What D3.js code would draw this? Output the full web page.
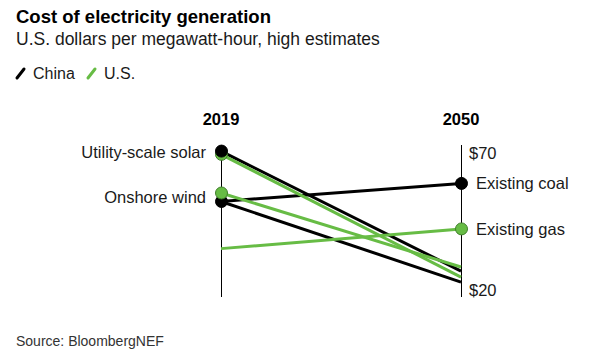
<!DOCTYPE html>
<html>
<head>
<meta charset="utf-8">
<script src="https://cdn.jsdelivr.net/npm/d3@7"></script>
<style>
  html, body { margin: 0; padding: 0; background: #fff; }
  svg { display: block; }
  text { font-family: "Liberation Sans", Arial, Helvetica, sans-serif; }
</style>
</head>
<body>
<svg id="chart" width="593" height="356"></svg>
<script>
// ---- Data ----
const years = ["2019", "2050"];
const chinaSolar = [70.7, 26.9];
const chinaWind  = [52.3, 22.9];
const chinaCoal  = [52.3, 58.9];
const usSolar    = [69.5, 24.7];
const usWind     = [55.4, 28.4];
const usGas      = [35.1, 42.3];
const tickValues = [70, 20];
const tickLabels = ["$70", "$20"];
const leftLabels  = [{ text: "Utility-scale solar", value: 70.2 }, { text: "Onshore wind", value: 53.9 }];
const rightLabels = [{ text: "Existing coal", value: 58.9 }, { text: "Existing gas", value: 42.3 }];

const BLACK = "#000000";
const GREEN = "#67bc45";
const GREEN_STROKE = "#3f7f2a";
const TEXT = "#1a1a1a";

const series = [
  { name: "China solar", country: "China", values: chinaSolar, dots: [0] },
  { name: "China wind",  country: "China", values: chinaWind,  dots: [0] },
  { name: "China coal",  country: "China", values: chinaCoal,  dots: [1] },
  { name: "US solar",    country: "US",    values: usSolar,    dots: [0] },
  { name: "US wind",     country: "US",    values: usWind,     dots: [0] },
  { name: "US gas",      country: "US",    values: usGas,      dots: [1] }
];
const color = c => c === "China" ? BLACK : GREEN;

// ---- Scales ----
const x = d3.scalePoint().domain(years).range([221, 461]);
const y = d3.scaleLinear().domain([20, 70]).range([290, 153]);

const svg = d3.select("#chart");

// ---- Titles ----
svg.append("text").attr("x", 16).attr("y", 23)
  .attr("font-size", 18.5).attr("font-weight", "bold").attr("fill", "#000")
  .text("Cost of electricity generation");
svg.append("text").attr("x", 16).attr("y", 45)
  .attr("font-size", 17.5).attr("fill", TEXT)
  .text("U.S. dollars per megawatt-hour, high estimates");

// ---- Legend ----
const legend = [{ label: "China", c: BLACK, x: 17 }, { label: "U.S.", c: GREEN, x: 88 }];
legend.forEach(l => {
  svg.append("line").attr("x1", l.x).attr("y1", 78).attr("x2", l.x + 7).attr("y2", 69)
    .attr("stroke", l.c).attr("stroke-width", 3).attr("stroke-linecap", "round");
  svg.append("text").attr("x", l.x + 16).attr("y", 78.5)
    .attr("font-size", 16).attr("fill", TEXT).text(l.label);
});

// ---- Axes (vertical lines) ----
years.forEach(yr => {
  svg.append("line").attr("x1", x(yr) + 0.5).attr("x2", x(yr) + 0.5)
    .attr("y1", 145).attr("y2", 297)
    .attr("stroke", "#000").attr("stroke-width", 1);
  svg.append("text").attr("x", x(yr)).attr("y", 125)
    .attr("text-anchor", "middle").attr("font-size", 16.5).attr("font-weight", "bold")
    .attr("fill", "#000").text(yr);
});

// tick labels on right axis
tickValues.forEach((v, i) => {
  svg.append("text").attr("x", x("2050") + 8).attr("y", y(v))
    .attr("dy", "0.35em").attr("font-size", 16.5).attr("fill", TEXT)
    .text(tickLabels[i]);
});

// ---- Lines ----
const line = d3.line().x((d, i) => x(years[i])).y(d => y(d));
series.forEach(s => {
  svg.append("path").datum(s.values).attr("d", line)
    .attr("fill", "none").attr("stroke", color(s.country)).attr("stroke-width", 3);
});

// ---- Dots (specific draw order) ----
const dotOrder = ["US solar", "China solar", "China wind", "US wind", "China coal", "US gas"];
dotOrder.forEach(n => {
  const s = series.find(d => d.name === n);
  s.dots.forEach(i => {
    svg.append("circle").attr("cx", x(years[i]) + 0.5).attr("cy", y(s.values[i])).attr("r", 6)
      .attr("fill", color(s.country))
      .attr("stroke", s.country === "China" ? BLACK : GREEN_STROKE)
      .attr("stroke-width", 1);
  });
});

// ---- Category labels ----
leftLabels.forEach(l => {
  svg.append("text").attr("x", x("2019") - 15).attr("y", y(l.value))
    .attr("dy", "0.35em").attr("text-anchor", "end").attr("font-size", 16.5)
    .attr("fill", TEXT).text(l.text);
});
rightLabels.forEach(l => {
  svg.append("text").attr("x", x("2050") + 15).attr("y", y(l.value))
    .attr("dy", "0.35em").attr("font-size", 16.5)
    .attr("fill", TEXT).text(l.text);
});

// ---- Source ----
svg.append("text").attr("x", 16).attr("y", 346)
  .attr("font-size", 14).attr("fill", "#333").text("Source: BloombergNEF");
</script>
</body>
</html>
